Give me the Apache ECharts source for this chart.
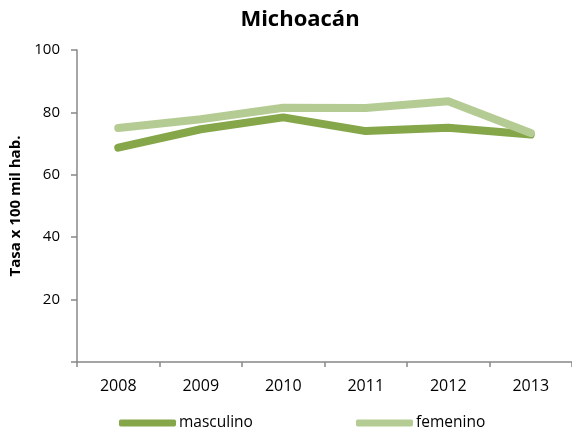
<!DOCTYPE html>
<html><head><meta charset="utf-8">
<script src="https://cdn.jsdelivr.net/npm/echarts@6/dist/echarts.min.js"></script>
<style>html,body{margin:0;padding:0;background:#fff}#c{width:572px;height:434px}</style>
</head><body><div id="c"></div>
<script>
const years = ['2008','2009','2010','2011','2012','2013'];
const masculino = [68.7, 74.6, 78.4, 74.0, 75.1, 72.9];
const femenino = [75.0, 77.8, 81.5, 81.4, 83.6, 73.4];
const yTicks = [0, 20, 40, 60, 80, 100];

const font = 'Open Sans, Liberation Sans, sans-serif';
const chart = echarts.init(document.getElementById('c'), null, {renderer: 'canvas'});
chart.setOption({
  animation: false,
  backgroundColor: '#fff',
  title: {text: 'Michoacán', left: 295, textAlign: 'center', top: 4,
    textStyle: {fontFamily: font, fontWeight: 'bold', fontSize: 22, color: '#000'}},
  grid: {left: 76, right: -2, top: 50, bottom: 72},
  legend: [
    {data: ['masculino'], left: 114, top: 410, itemWidth: 57, itemHeight: 7, icon: 'roundRect', itemGap: 2,
      textStyle: {fontFamily: font, fontSize: 15.5, color: '#000', padding: [0,0,0,-2]}},
    {data: ['femenino'], left: 351, top: 410, itemWidth: 57, itemHeight: 7, icon: 'roundRect',
      textStyle: {fontFamily: font, fontSize: 15.5, color: '#000', padding: [0,0,0,-2]}}
  ],
  xAxis: {type: 'category', data: years, boundaryGap: true,
    axisLine: {lineStyle: {color: '#888', width: 1.5}},
    axisTick: {show: true, length: 5, lineStyle: {color: '#888', width: 1.5}},
    axisLabel: {fontFamily: font, fontSize: 16, color: '#000', margin: 16}},
  yAxis: {type: 'value', min: yTicks[0], max: yTicks[yTicks.length-1], interval: 20,
    name: 'Tasa x 100 mil hab.', nameLocation: 'middle', nameGap: 54, nameRotate: 90,
    nameTextStyle: {fontFamily: font, fontWeight: 'bold', fontSize: 15, color: '#000'},
    splitLine: {show: false},
    axisLine: {show: true, lineStyle: {color: '#888', width: 1.5}},
    axisTick: {show: true, length: 6, lineStyle: {color: '#888', width: 1.5}},
    axisLabel: {fontFamily: font, fontSize: 15, color: '#000', margin: 17,
      formatter: v => v === 0 ? '' : String(v)}},
  series: [
    {name: 'masculino', type: 'line', data: masculino, symbol: 'none', z: 2,
      lineStyle: {color: '#86a64a', width: 8, cap: 'round', join: 'round'}, itemStyle: {color: '#86a64a'}},
    {name: 'femenino', type: 'line', data: femenino, symbol: 'none', z: 3,
      lineStyle: {color: '#b4cc93', width: 8, cap: 'round', join: 'round'}, itemStyle: {color: '#b4cc93'}}
  ]
});
</script></body></html>
